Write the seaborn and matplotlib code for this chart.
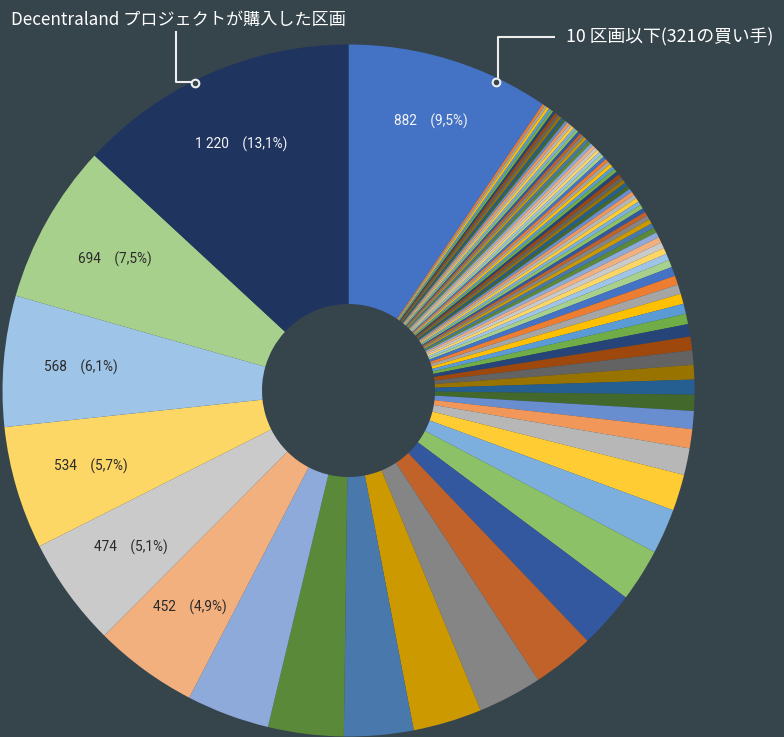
import matplotlib
matplotlib.use("Agg")
import matplotlib.pyplot as plt
import numpy as np
import seaborn as sns

# Parcels bought per buyer, listed clockwise from 12 o'clock.
under_ten_total = 882      # every buyer with 10 parcels or fewer, combined
under_ten_buyers = 321
small_buyers = [
    11, 11, 11, 11, 11, 11, 11, 11, 11, 11, 11, 11,
    12, 12, 12, 12, 12, 12, 12, 12, 12,
    13, 13, 13, 13, 13, 13, 13,
    14, 14, 14, 14, 14, 14,
    15, 15, 15, 15, 15,
    16, 16, 16, 16,
    17, 17, 17,
    18, 18, 18,
    19, 20, 21, 22, 23, 25, 26, 27, 29, 32,
]
mid_buyers = [40, 40, 41, 44, 44, 45, 54, 60, 62, 63, 65, 70,
              78, 83, 116, 158, 196, 230, 248, 269, 279, 299, 301, 328, 360]
top_buyers = [452, 474, 534, 568, 694]
decentraland_project = 1220

title_left = "Decentraland プロジェクトが購入した区画"
title_right = f"10 区画以下({under_ten_buyers}の買い手)"

values = [under_ten_total] + small_buyers + mid_buyers + top_buyers + [decentraland_project]
total = sum(values)

sns.set_theme(style="white")
plt.rcParams["font.family"] = ["Roboto", "Noto Sans CJK JP", "DejaVu Sans"]

bg = "#36444C"
office = sns.color_palette([
    "#4472C4", "#ED7D31", "#A5A5A5", "#FFC000", "#5B9BD5", "#70AD47",
    "#264478", "#9E480E", "#636363", "#997300", "#255E91", "#43682B",
    "#698ED0", "#F1975A", "#B7B7B7", "#FFCD33", "#7CAFDD", "#8CC168",
    "#3358A0", "#C0622A", "#858585", "#CC9900", "#4878AC", "#5A8A39",
    "#8EAADB", "#F3B07F", "#CACACA", "#FDD766", "#9EC4E7", "#A8D08D",
])
colors = [office[i % len(office)] for i in range(len(values))]
colors[-1] = "#1F3560"

W, H = 784, 737
fig = plt.figure(figsize=(W / 100, H / 100), dpi=100, facecolor=bg)
ax = fig.add_axes([0, 0, 1, 1])
ax.set_facecolor(bg)

cx, cy = 348.5, H - 390.5
R, r_hole = 346, 86.5
wedges, _ = ax.pie(values, colors=colors, startangle=90, counterclock=False,
                   radius=R, center=(cx, cy),
                   wedgeprops=dict(width=R - r_hole, linewidth=0))
ax.set_xlim(0, W)
ax.set_ylim(0, H)
ax.set_aspect("equal")
ax.axis("off")


def fmt_label(v):
    num = f"{v:,}".replace(",", " ")
    pct = f"{100 * v / total:.1f}".replace(".", ",")
    return f"{num}    ({pct}%)"


labelled = [0] + list(range(len(values) - 1 - len(top_buyers), len(values)))
light_text = {0, len(values) - 1}
for i in labelled:
    w = wedges[i]
    ang = np.deg2rad((w.theta1 + w.theta2) / 2)
    rr = R * (0.815 if i == 0 else 0.775)
    ax.text(cx + rr * np.cos(ang), cy + rr * np.sin(ang), fmt_label(values[i]),
            ha="center", va="center", fontsize=9.8, family="Roboto",
            color="#F4F4F4" if i in light_text else "#2A2A2A")

# callouts
line_kw = dict(color="#EDEDED", lw=1.5, solid_capstyle="butt")
ax.text(11, H - 25, title_left, ha="left", va="baseline", fontsize=12.3,
        color="white", family=["Noto Sans CJK JP", "DejaVu Sans"])
ax.plot([176, 176, 192], [H - 31, H - 82, H - 82], **line_kw)
ax.plot([195], [H - 83], "o", ms=5.5, mfc=bg, mec="#EDEDED", mew=1.5)

ax.text(566, H - 42, title_right, ha="left", va="baseline", fontsize=12.8,
        color="white", family=["Noto Sans CJK JP", "DejaVu Sans"])
ax.plot([555, 498, 498], [H - 37, H - 37, H - 78], **line_kw)
ax.plot([496.5], [H - 81.5], "o", ms=5.5, mfc=bg, mec="#EDEDED", mew=1.5)

fig.savefig("out.png", dpi=100, facecolor=bg)
